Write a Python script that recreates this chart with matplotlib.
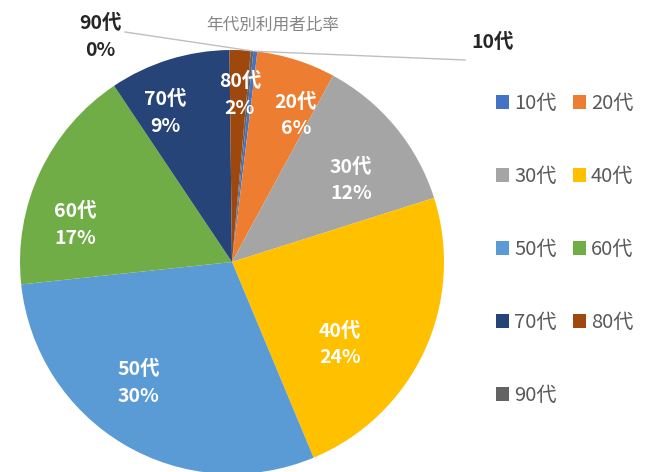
import matplotlib
matplotlib.use("Agg")
import matplotlib.pyplot as plt
from matplotlib.patches import Patch
import numpy as np

plt.rcParams['font.family'] = ['Noto Sans CJK JP', 'DejaVu Sans']

# data
age_groups = ["10代", "20代", "30代", "40代", "50代", "60代", "70代", "80代", "90代"]
shares = [0.3, 6.0, 12.2, 23.6, 29.6, 17.3, 9.2, 1.6, 0.2]
colors = ["#4472C4", "#ED7D31", "#A5A5A5", "#FFC000", "#5B9BD5",
          "#70AD47", "#264478", "#9E480E", "#636363"]
title = "年代別利用者比率"

# label placement tweaks (angle shift in degrees clockwise, radius fraction)
label_layout = {
    "20代": (5.8, 0.755), "30代": (5.2, 0.68), "40代": (12.5, 0.64),
    "50代": (7.1, 0.72), "60代": (-11.7, 0.76), "70代": (-6.9, 0.77),
    "80代": (0.5, 0.79),
}

W, H = 655, 472
fig = plt.figure(figsize=(W / 100, H / 100), dpi=100)
ax = fig.add_axes([0, 0, 1, 1])

# pie geometry in pixel-like data units
cx, cy, r = 232, H - 262, 212
wedges, _ = ax.pie(shares, colors=colors, center=(cx, cy), radius=r,
                   startangle=84.2, counterclock=False,
                   wedgeprops=dict(linewidth=0), frame=True)
ax.set_xlim(0, W)
ax.set_ylim(0, H)
ax.set_aspect("equal")
ax.axis("off")

total = sum(shares)
pcts = [round(v / total * 100) for v in shares]

# labels inside the slices
for w, name, p in zip(wedges, age_groups, pcts):
    if name not in label_layout:
        continue
    shift, frac = label_layout[name]
    mid = np.deg2rad((w.theta1 + w.theta2) / 2 - shift)
    x = cx + frac * r * np.cos(mid)
    y = cy + frac * r * np.sin(mid)
    ax.text(x, y, f"{name}\n{p}%", ha="center", va="center", color="white",
            fontsize=14, fontweight="bold", linespacing=1.5)

# tiny slices: outside labels with leader lines
def edge_point(w):
    mid = np.deg2rad((w.theta1 + w.theta2) / 2)
    return cx + r * np.cos(mid), cy + r * np.sin(mid)

i90 = age_groups.index("90代")
ex, ey = edge_point(wedges[i90])
ax.plot([125, ex], [H - 32, ey], color="#BFBFBF", lw=1)
ax.text(100, H - 37, f"{age_groups[i90]}\n{pcts[i90]}%", ha="center", va="center",
        color="#262626", fontsize=14, fontweight="bold", linespacing=1.5)

i10 = age_groups.index("10代")
ex, ey = edge_point(wedges[i10])
ax.plot([ex, 465], [ey, H - 60], color="#BFBFBF", lw=1)
ax.text(493, H - 42, age_groups[i10], ha="center", va="center",
        color="#262626", fontsize=14, fontweight="bold")

ax.text(273, H - 25, title, ha="center", va="center", color="#858585", fontsize=12)

# legend laid out row by row (10代 20代 / 30代 40代 ...)
handles = [Patch(facecolor=c, label=l) for c, l in zip(colors, age_groups)]
handles = handles[0::2] + handles[1::2]
ax.legend(handles=handles, ncol=2, loc="upper left",
          bbox_to_anchor=(486 / W, 1 - 83 / H), frameon=False,
          fontsize=14.5, labelcolor="#595959", handlelength=0.65,
          handleheight=0.65, handletextpad=0.25, columnspacing=0.8,
          labelspacing=2.58, borderpad=0)

fig.savefig("out.png", dpi=100)
